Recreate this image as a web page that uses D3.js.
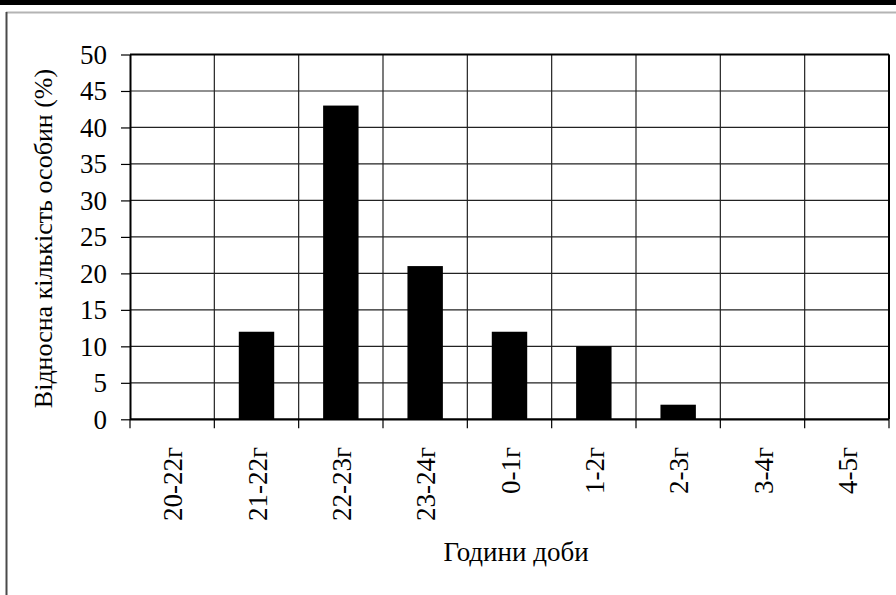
<!DOCTYPE html>
<html>
<head>
<meta charset="utf-8">
<script src="https://cdn.jsdelivr.net/npm/d3@7"></script>
<style>
  html, body { margin: 0; padding: 0; background: #fff; }
  svg { display: block; }
</style>
</head>
<body>
<svg id="chart" width="896" height="595"></svg>
<script>
const categories = ["20-22г", "21-22г", "22-23г", "23-24г", "0-1г", "1-2г", "2-3г", "3-4г", "4-5г"];
const values = [0, 12, 43, 21, 12, 10, 2, 0, 0];
const yTicks = [0, 5, 10, 15, 20, 25, 30, 35, 40, 45, 50];
const yTitle = "Відносна кількість особин (%)";
const xTitle = "Години доби";

const FONT = '"Liberation Serif"';
const FS = "27px";
const svg = d3.select("#chart");
const W = 896, H = 595;
const plot = { left: 130, right: 889, top: 54.5, bottom: 419.3 };

// frame decorations
svg.append("rect").attr("x", 0).attr("y", 0).attr("width", W).attr("height", 5).attr("fill", "#000");
svg.append("line").attr("x1", 6).attr("x2", W).attr("y1", 12.5).attr("y2", 12.5)
  .attr("stroke", "#b4b4b4").attr("stroke-width", 2);
svg.append("line").attr("x1", 6.5).attr("x2", 6.5).attr("y1", 12).attr("y2", H)
  .attr("stroke", "#4a4a4a").attr("stroke-width", 2);

const x = d3.scaleBand().domain(categories).range([plot.left, plot.right]).padding(0);
const y = d3.scaleLinear().domain([0, 50]).range([plot.bottom, plot.top]);

// horizontal gridlines
svg.append("g").selectAll("line").data(yTicks.filter(d => d > 0)).join("line")
  .attr("x1", plot.left).attr("x2", plot.right)
  .attr("y1", d => y(d)).attr("y2", d => y(d))
  .attr("stroke", "#222").attr("stroke-width", 1.2);

// vertical gridlines at category boundaries
const bounds = categories.slice(1).map(c => x(c));
svg.append("g").selectAll("line").data(bounds).join("line")
  .attr("x1", d => d).attr("x2", d => d)
  .attr("y1", plot.top).attr("y2", plot.bottom)
  .attr("stroke", "#222").attr("stroke-width", 1.2);

// bars
const bw = x.bandwidth() * 0.42;
svg.append("g").selectAll("rect").data(categories.map((c, i) => ({ c, v: values[i] })).filter(d => d.v > 0)).join("rect")
  .attr("x", d => x(d.c) + x.bandwidth() / 2 - bw / 2)
  .attr("y", d => y(d.v))
  .attr("width", bw)
  .attr("height", d => y(0) - y(d.v))
  .attr("fill", "#000");

// plot border (top & right)
svg.append("line").attr("x1", plot.left).attr("x2", plot.right).attr("y1", plot.top).attr("y2", plot.top)
  .attr("stroke", "#000").attr("stroke-width", 2);
svg.append("line").attr("x1", plot.right).attr("x2", plot.right).attr("y1", plot.top).attr("y2", plot.bottom)
  .attr("stroke", "#000").attr("stroke-width", 2);

// y axis
const yAxis = d3.axisLeft(y).tickValues(yTicks).tickSize(9).tickPadding(14).tickSizeOuter(0);
const gy = svg.append("g").attr("transform", `translate(${plot.left},0)`).call(yAxis)
  .attr("font-family", null).attr("font-size", null);
gy.select(".domain").attr("stroke", "#000").attr("stroke-width", 2);
gy.selectAll(".tick line").attr("stroke", "#000").attr("stroke-width", 1.2);
gy.selectAll(".tick text").style("font-family", FONT).style("font-size", FS).attr("fill", "#000").attr("dy", "0.33em");

// x axis line
svg.append("line").attr("x1", plot.left).attr("x2", plot.right).attr("y1", plot.bottom).attr("y2", plot.bottom)
  .attr("stroke", "#000").attr("stroke-width", 2.2);
// x tick marks at boundaries
const allBounds = categories.map(c => x(c)).concat([plot.right]);
svg.append("g").selectAll("line").data(allBounds).join("line")
  .attr("x1", d => d).attr("x2", d => d)
  .attr("y1", plot.bottom).attr("y2", plot.bottom + 9)
  .attr("stroke", "#000").attr("stroke-width", 1.2);

// x labels rotated
svg.append("g").selectAll("text").data(categories).join("text")
  .attr("transform", d => `translate(${x(d) + x.bandwidth() / 2 + 10},447) rotate(-90)`)
  .attr("text-anchor", "end")
  .style("font-family", FONT).style("font-size", FS)
  .text(d => d);

// titles
svg.append("text")
  .attr("transform", "translate(52,238.5) rotate(-90)")
  .attr("text-anchor", "middle")
  .style("font-family", FONT).style("font-size", "26px")
  .text(yTitle);

svg.append("text")
  .attr("x", 516).attr("y", 560.5)
  .attr("text-anchor", "middle")
  .style("font-family", FONT).style("font-size", FS)
  .text(xTitle);
</script>
</body>
</html>
